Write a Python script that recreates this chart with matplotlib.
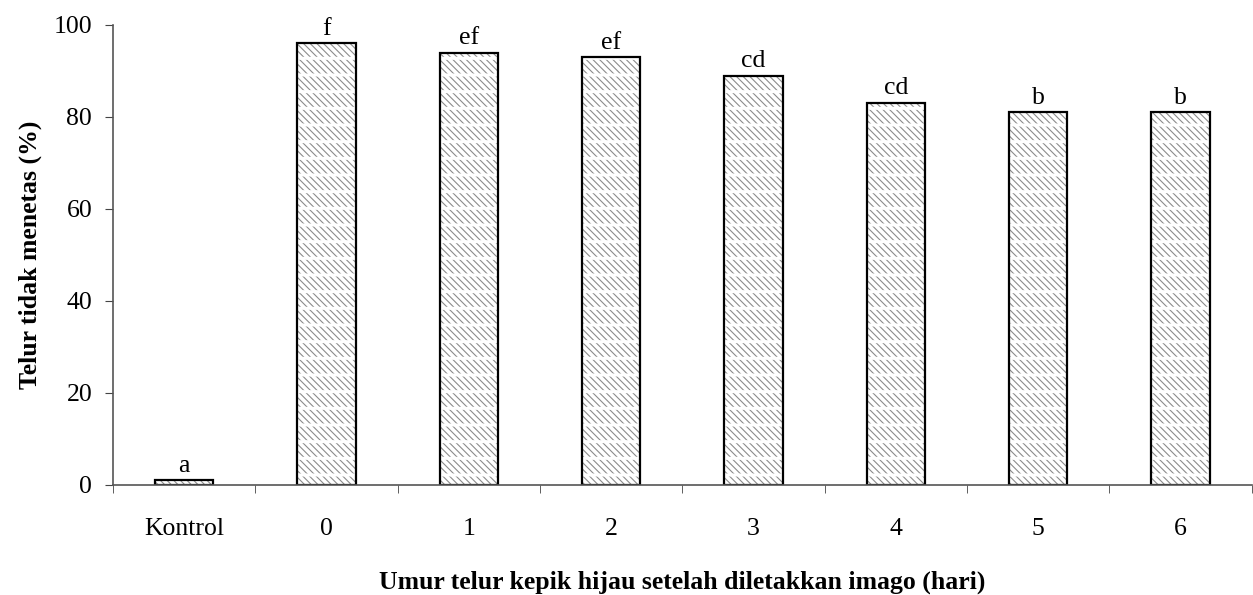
import matplotlib.pyplot as plt

plt.rcParams['font.family'] = ['Liberation Serif', 'DejaVu Serif']

# data
categories = ['Kontrol', '0', '1', '2', '3', '4', '5', '6']
values = [1, 96, 94, 93, 89, 83, 81, 81]
letters = ['a', 'f', 'ef', 'ef', 'cd', 'cd', 'b', 'b']

fig = plt.figure(figsize=(12.53, 5.95), dpi=100)
ax = fig.add_axes([0.0902, 0.185, 0.9088, 0.773])

x = list(range(len(categories)))
bw = 0.41
# gray diagonal texture, then white row gaps, then black outline
plt.rcParams['hatch.linewidth'] = 0.8
ax.bar(x, values, width=bw, color='white', edgecolor='#8c8c8c',
       linewidth=0, hatch='\\\\\\\\\\')
plt.rcParams['hatch.linewidth'] = 2.2
ax.bar(x, values, width=bw, color='none', edgecolor='white',
       linewidth=0, hatch='-')
ax.bar(x, values, width=bw, color='none', edgecolor='black', linewidth=1.6)

for xi, v, lab in zip(x, values, letters):
    ax.text(xi, v + 0.8, lab, ha='center', va='bottom', fontsize=18.5)

ax.set_xlim(-0.5, len(categories) - 0.5)
ax.set_ylim(0, 100)
ax.set_yticks([0, 20, 40, 60, 80, 100])
ax.set_xticks(x)
ax.set_xticklabels(categories)
ax.set_xticks([i - 0.5 for i in range(len(categories) + 1)], minor=True)
ax.tick_params(axis='x', which='major', length=0, pad=24, labelsize=18.5)
ax.tick_params(axis='x', which='minor', length=6, direction='out', color='#444444')
ax.tick_params(axis='y', length=6, direction='out', color='#444444', labelsize=18.5, pad=9)

for s in ['top', 'right']:
    ax.spines[s].set_visible(False)
for s in ['left', 'bottom']:
    ax.spines[s].set_color('#555555')
    ax.spines[s].set_linewidth(1.2)

ax.set_ylabel('Telur tidak menetas (%)', fontsize=18.5, fontweight='bold', labelpad=8)
ax.set_xlabel('Umur telur kepik hijau setelah diletakkan imago (hari)',
              fontsize=18.5, fontweight='bold', labelpad=22)

fig.savefig('out.png', dpi=100)
